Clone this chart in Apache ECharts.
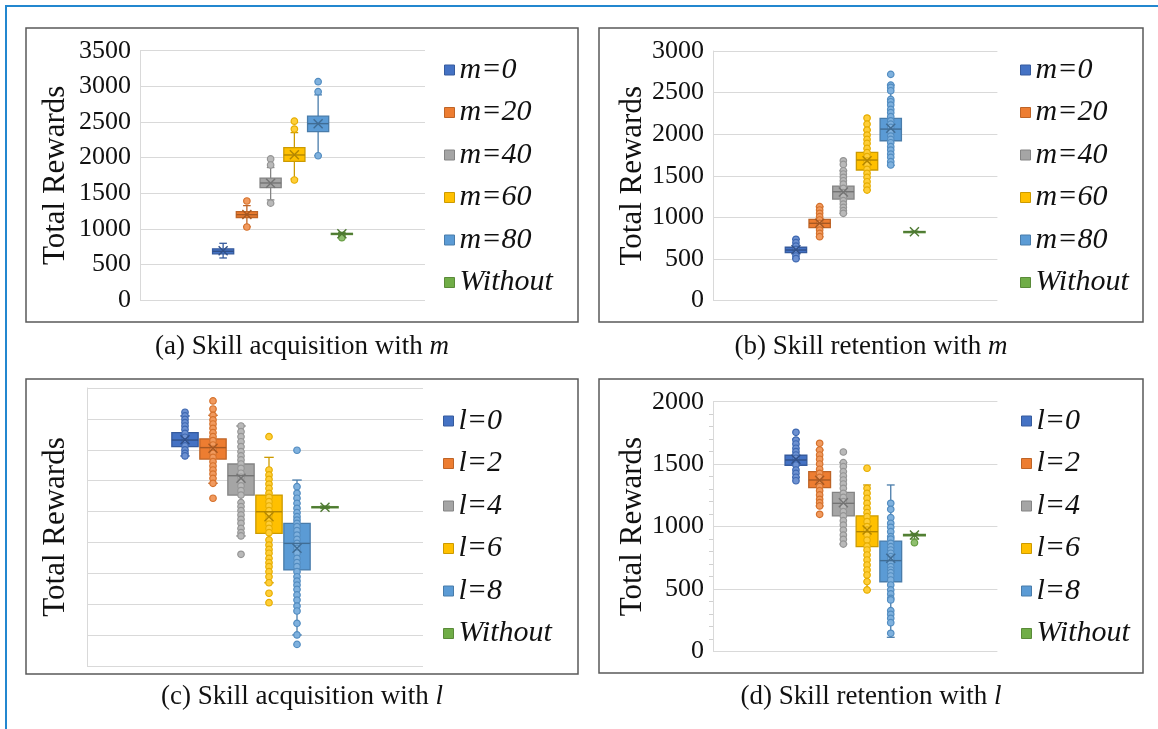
<!DOCTYPE html>
<html>
<head>
<meta charset="utf-8">
<script src="https://cdn.jsdelivr.net/npm/echarts@6/dist/echarts.min.js"></script>
<style>
  html, body { margin: 0; padding: 0; background: #ffffff; }
  #chart { width: 1158px; height: 729px; }
</style>
</head>
<body>
<div id="chart"></div>
<script>
// ---- group names -------------------------------------------------------
const mLabels = ['m=0', 'm=20', 'm=40', 'm=60', 'm=80', 'Without'];
const lLabels = ['l=0', 'l=2', 'l=4', 'l=6', 'l=8', 'Without'];

// ---- y-axis tick ranges -------------------------------------------------
const ticksA = { min: 0, max: 3500, step: 500 };
const ticksB = { min: 0, max: 3000, step: 500 };
const ticksC = { min: 0, max: 1800, step: 200 };
const ticksD = { min: 0, max: 2000, step: 500 };

// ---- box statistics: [low whisker, Q1, median, Q3, high whisker, mean] ---
const acqMStats = [
  [590, 648, 684, 718, 796, 690],
  [1030, 1158, 1198, 1240, 1325, 1200],
  [1405, 1578, 1643, 1712, 1860, 1640],
  [1700, 1945, 2036, 2138, 2350, 2040],
  [2025, 2365, 2476, 2582, 2880, 2475],
  [905, 925, 930, 936, 950, 930]
];
const retMStats = [
  [503, 575, 607, 640, 736, 610],
  [767, 876, 928, 976, 1128, 930],
  [1048, 1220, 1308, 1376, 1560, 1305],
  [1328, 1569, 1689, 1781, 2049, 1680],
  [1625, 1921, 2061, 2190, 2590, 2070],
  [820, 824, 827, 830, 834, 827]
];
const acqLStats = [
  [1360, 1420, 1463, 1511, 1619, 1465],
  [1183, 1340, 1414, 1470, 1623, 1410],
  [842, 1107, 1232, 1308, 1554, 1215],
  [539, 859, 999, 1107, 1351, 967],
  [201, 622, 794, 924, 1204, 762],
  [1020, 1024, 1028, 1032, 1036, 1028]
];
const retLStats = [
  [1395, 1491, 1533, 1571, 1700, 1540],
  [1165, 1311, 1373, 1440, 1613, 1370],
  [860, 1085, 1186, 1274, 1512, 1190],
  [492, 839, 959, 1085, 1333, 972],
  [113, 558, 727, 884, 1333, 746],
  [900, 925, 932, 938, 945, 932]
];

// ---- individual runs (inner points and outliers) -------------------------
const acqMPoints = [
  [],
  [1390, 1025],
  [1980, 1895, 1360],
  [2510, 2400, 1685],
  [3065, 2925, 2025],
  [875]
];
const retMPoints = [
  [736, 695, 655, 615, 575, 535, 503],
  [1128, 1088, 1048, 1008, 968, 928, 887, 847, 807, 767],
  [1680, 1636, 1560, 1521, 1481, 1440, 1400, 1348, 1296, 1248, 1200, 1160, 1120, 1080, 1048],
  [2194, 2121, 2049, 1989, 1937, 1889, 1829, 1777, 1729, 1677, 1629, 1577, 1529, 1481, 1428, 1376, 1328],
  [2719, 2590, 2562, 2522, 2418, 2390, 2350, 2298, 2258, 2210, 2161, 2121, 2081, 2029, 1977, 1937, 1897, 1849, 1809, 1761, 1721, 1669, 1629],
  []
];
const acqLPoints = [
  [1643, 1619, 1597, 1576, 1554, 1532, 1506, 1481, 1452, 1425, 1399, 1377, 1360],
  [1716, 1664, 1623, 1593, 1567, 1539, 1511, 1485, 1459, 1431, 1403, 1377, 1351, 1323, 1295, 1269, 1243, 1215, 1183, 1086],
  [1554, 1517, 1485, 1452, 1420, 1388, 1360, 1334, 1308, 1280, 1248, 1222, 1194, 1166, 1135, 1107, 1058, 1032, 1006, 978, 950, 924, 891, 863, 842, 723],
  [1485, 1269, 1237, 1209, 1178, 1150, 1118, 1092, 1064, 1036, 1006, 978, 950, 919, 891, 863, 816, 783, 755, 730, 697, 669, 643, 611, 578, 539, 471, 410],
  [1397, 1161, 1118, 1086, 1053, 1021, 993, 967, 945, 924, 902, 876, 848, 820, 794, 762, 730, 697, 669, 643, 611, 578, 550, 524, 496, 460, 427, 388, 356, 276, 201, 140],
  []
];
const retLPoints = [
  [1755, 1693, 1661, 1627, 1600, 1573, 1547, 1520, 1493, 1453, 1426, 1395, 1367],
  [1667, 1613, 1573, 1539, 1501, 1459, 1426, 1394, 1351, 1319, 1287, 1253, 1218, 1191, 1165, 1098],
  [1597, 1512, 1480, 1440, 1405, 1373, 1341, 1306, 1266, 1234, 1199, 1159, 1119, 1085, 1047, 1012, 972, 932, 898, 860],
  [1467, 1306, 1266, 1226, 1186, 1146, 1111, 1079, 1039, 999, 972, 932, 892, 844, 812, 772, 732, 692, 652, 612, 559, 492],
  [1186, 1138, 1071, 1026, 994, 959, 919, 900, 866, 839, 812, 786, 759, 738, 706, 679, 652, 631, 604, 572, 532, 492, 460, 425, 412, 326, 297, 265, 230, 145],
  [871]
];

// ---- styling ------------------------------------------------------------
const SERIF = "'Liberation Serif', 'Times New Roman', serif";
const palette = ['#4472C4', '#ED7D31', '#A5A5A5', '#FFC000', '#5B9BD5', '#70AD47'];
const PAD = 3; // empty category slots on each side of the six boxes

function mix(hex, f, toward) {
  const n = parseInt(hex.slice(1), 16);
  const ch = [(n >> 16) & 255, (n >> 8) & 255, n & 255].map(c => Math.round(c + (toward - c) * f));
  return 'rgb(' + ch.join(',') + ')';
}
const edge = palette.map(c => mix(c, 0.2, 0));
const dotFill = palette.map(c => mix(c, 0.22, 255));

// ---- panel layout ---------------------------------------------------------
const panels = [
  { labels: mLabels, stats: acqMStats, points: acqMPoints, ticks: ticksA, showLabels: true,
    grid: { left: 140, top: 50.7, width: 285, height: 249.3 }, nameGap: 69,
    legend: { left: 444, top: 55 }, frame: [26, 28, 552, 294],
    caption: '(a) Skill acquisition with {i|m}', capPos: [302, 347], boxRatio: 0.89 },
  { labels: mLabels, stats: retMStats, points: retMPoints, ticks: ticksB, showLabels: true,
    grid: { left: 713, top: 51, width: 284.4, height: 249.5 }, nameGap: 65,
    legend: { left: 1020, top: 55 }, frame: [599, 28, 544, 294],
    caption: '(b) Skill retention with {i|m}', capPos: [871, 347], boxRatio: 0.9 },
  { labels: lLabels, stats: acqLStats, points: acqLPoints, ticks: ticksC, showLabels: false,
    grid: { left: 87, top: 388, width: 336, height: 278 }, nameGap: 16,
    legend: { left: 443, top: 406 }, frame: [26, 379, 552, 295],
    caption: '(c) Skill acquisition with {i|l}', capPos: [302, 697], boxRatio: 0.94 },
  { labels: lLabels, stats: retLStats, points: retLPoints, ticks: ticksD, showLabels: true, minor: true,
    grid: { left: 713, top: 401.7, width: 284.4, height: 249.7 }, nameGap: 65,
    legend: { left: 1021, top: 406 }, frame: [599, 379, 544, 294],
    caption: '(d) Skill retention with {i|l}', capPos: [871, 697], boxRatio: 0.92 }
];

// box body, whiskers and whisker caps
function boxRenderer(ratio, fill, line) {
  return function (params, api) {
    const x = api.value(0);
    const bw = api.size([1, 0])[0] * ratio;
    const cap = bw * 0.36;
    const lo = api.coord([x, api.value(1)]);
    const cx = lo[0];
    const yLo = lo[1];
    const yQ1 = api.coord([x, api.value(2)])[1];
    const yQ3 = api.coord([x, api.value(4)])[1];
    const yHi = api.coord([x, api.value(5)])[1];
    const ls = { stroke: line, lineWidth: 1.3 };
    return {
      type: 'group',
      children: [
        { type: 'line', shape: { x1: cx, y1: yHi, x2: cx, y2: yQ3 }, style: ls },
        { type: 'line', shape: { x1: cx, y1: yQ1, x2: cx, y2: yLo }, style: ls },
        { type: 'line', shape: { x1: cx - cap / 2, y1: yHi, x2: cx + cap / 2, y2: yHi }, style: ls },
        { type: 'line', shape: { x1: cx - cap / 2, y1: yLo, x2: cx + cap / 2, y2: yLo }, style: ls },
        { type: 'rect', shape: { x: cx - bw / 2, y: yQ3, width: bw, height: Math.max(yQ1 - yQ3, 1.2) },
          style: { fill: fill, stroke: line, lineWidth: 1.3 } }
      ]
    };
  };
}

// median bar and mean cross drawn above the points
function centreRenderer(ratio, line) {
  return function (params, api) {
    const x = api.value(0);
    const bw = api.size([1, 0])[0] * ratio;
    const med = api.coord([x, api.value(3)]);
    const mean = api.coord([x, api.value(6)]);
    const h = 4.5;
    const ls = { stroke: line, lineWidth: 1.4 };
    return {
      type: 'group',
      children: [
        { type: 'line', shape: { x1: med[0] - bw / 2, y1: med[1], x2: med[0] + bw / 2, y2: med[1] }, style: ls },
        { type: 'line', shape: { x1: mean[0] - h, y1: mean[1] - h, x2: mean[0] + h, y2: mean[1] + h }, style: ls },
        { type: 'line', shape: { x1: mean[0] - h, y1: mean[1] + h, x2: mean[0] + h, y2: mean[1] - h }, style: ls }
      ]
    };
  };
}

const grids = [], xAxes = [], yAxes = [], series = [], legends = [], graphics = [];

// outer blue frame (only its top and left edges fall inside the canvas)
graphics.push({ type: 'rect', shape: { x: 6, y: 6, width: 1400, height: 1000 },
  style: { fill: null, stroke: '#2387cf', lineWidth: 2 }, z: 0 });

panels.forEach((p, pi) => {
  grids.push(Object.assign({ containLabel: false }, p.grid));
  const slots = [];
  for (let i = 0; i < PAD; i++) slots.push('before' + i);
  p.labels.forEach(n => slots.push(n));
  for (let i = 0; i < PAD; i++) slots.push('after' + i);
  xAxes.push({ type: 'category', gridIndex: pi, data: slots, show: false, boundaryGap: true });
  yAxes.push({
    type: 'value', gridIndex: pi, min: p.ticks.min, max: p.ticks.max, interval: p.ticks.step,
    name: 'Total Rewards', nameLocation: 'middle', nameGap: p.nameGap,
    nameTextStyle: { fontFamily: SERIF, fontSize: 31, color: '#111' },
    axisLine: { show: true, lineStyle: { color: '#d9d9d9', width: 1 } },
    axisTick: { show: false },
    minorTick: { show: !!p.minor, splitNumber: 5, length: 4, lineStyle: { color: '#d0d0d0' } },
    axisLabel: { show: p.showLabels, fontFamily: SERIF, fontSize: 26, color: '#111', margin: 9,
      formatter: v => String(v) },
    splitLine: { show: true, lineStyle: { color: '#d9d9d9', width: 1.2 } }
  });

  p.labels.forEach((name, g) => {
    const s = p.stats[g];
    const row = [PAD + g].concat(s);
    series.push({
      type: 'custom', name: name, xAxisIndex: pi, yAxisIndex: pi, z: 2,
      itemStyle: { color: palette[g] },
      renderItem: boxRenderer(p.boxRatio, palette[g], edge[g]),
      encode: { x: 0, y: [1, 2, 3, 4, 5, 6] },
      data: [row], silent: true
    });
    series.push({
      type: 'scatter', name: name, xAxisIndex: pi, yAxisIndex: pi, z: 3,
      symbol: 'circle', symbolSize: 6.5,
      itemStyle: { color: dotFill[g], borderColor: mix(palette[g], 0.1, 0), borderWidth: 1.2, opacity: 1 },
      data: p.points[g].map(v => [PAD + g, v]), silent: true
    });
    series.push({
      type: 'custom', name: name, xAxisIndex: pi, yAxisIndex: pi, z: 4,
      itemStyle: { color: palette[g] },
      renderItem: centreRenderer(p.boxRatio, mix(palette[g], 0.3, 0)),
      encode: { x: 0, y: [1, 2, 3, 4, 5, 6] },
      data: [row], silent: true
    });
  });

  legends.push({
    orient: 'vertical', left: p.legend.left, top: p.legend.top, padding: 0,
    itemWidth: 10, itemHeight: 10, itemGap: 12.5, icon: 'rect', selectedMode: false,
    textStyle: { fontFamily: SERIF, fontStyle: 'italic', fontSize: 30, lineHeight: 30, color: '#111', padding: [0, 0, 0, 0] },
    data: p.labels.map((n, g) => ({ name: n, itemStyle: { color: palette[g], borderColor: edge[g], borderWidth: 1 } }))
  });

  graphics.push({ type: 'rect', shape: { x: p.frame[0], y: p.frame[1], width: p.frame[2], height: p.frame[3] },
    style: { fill: null, stroke: '#5a5a5a', lineWidth: 1.5 }, z: 0 });
  graphics.push({ type: 'text', x: p.capPos[0], y: p.capPos[1], z: 5,
    style: { text: p.caption, fontFamily: SERIF, fontSize: 27, fill: '#111', align: 'center', verticalAlign: 'middle',
      rich: { i: { fontFamily: SERIF, fontSize: 27, fontStyle: 'italic', fill: '#111' } } } });
});

const chart = echarts.init(document.getElementById('chart'), null, { renderer: 'canvas' });
chart.setOption({
  backgroundColor: '#ffffff',
  animation: false,
  grid: grids,
  xAxis: xAxes,
  yAxis: yAxes,
  legend: legends,
  series: series,
  graphic: graphics
});
</script>
</body>
</html>
